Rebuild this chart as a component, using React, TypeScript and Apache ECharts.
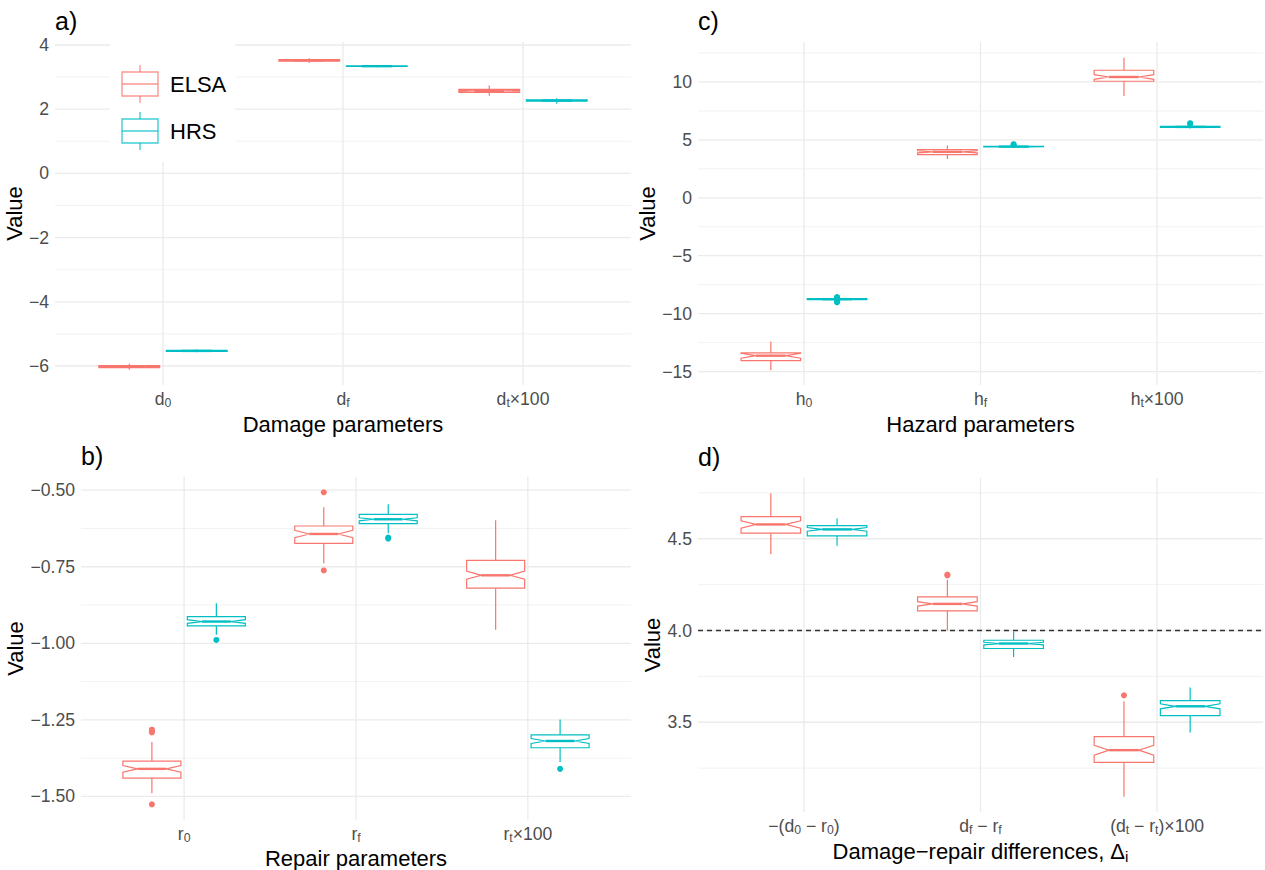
import React, { useEffect, useRef } from 'react';
import * as echarts from 'echarts';

const FONT = '"Liberation Sans", Arial, Helvetica, sans-serif';
const TICK_COLOR = '#4D4D4D';
const GRID_COLOR = '#EBEBEB';
const ELSA_COLOR = '#F8766D';
const HRS_COLOR = '#00BFC4';

// Box statistics for each category:
// [lower whisker, Q1, notch low, median, notch high, Q3, upper whisker]
const damageELSA = [
  [-6.12, -6.05, -6.029, -6.02, -6.011, -5.99, -5.93],
  [3.44, 3.495, 3.513, 3.52, 3.527, 3.545, 3.59],
  [2.42, 2.52, 2.555, 2.57, 2.585, 2.62, 2.74],
];
const damageHRS = [
  [-5.57, -5.545, -5.535, -5.53, -5.525, -5.515, -5.49],
  [3.31, 3.33, 3.337, 3.34, 3.343, 3.35, 3.37],
  [2.17, 2.25, 2.264, 2.27, 2.276, 2.29, 2.34],
];
const damageELSAOutliers: number[][] = [[], [], []];
const damageHRSOutliers: number[][] = [[], [], []];

const repairELSA = [
  [-1.49, -1.44, -1.421, -1.41, -1.399, -1.385, -1.322],
  [-0.739, -0.674, -0.655, -0.643, -0.631, -0.617, -0.556],
  [-0.956, -0.82, -0.791, -0.778, -0.764, -0.729, -0.598],
];
const repairHRS = [
  [-0.972, -0.943, -0.935, -0.929, -0.923, -0.913, -0.869],
  [-0.641, -0.609, -0.6, -0.595, -0.59, -0.579, -0.546],
  [-1.388, -1.341, -1.327, -1.319, -1.311, -1.299, -1.249],
];
const repairELSAOutliers = [[-1.282, -1.287, -1.291, -1.526], [-0.507, -0.762], []];
const repairHRSOutliers = [[-0.989], [-0.655, -0.658], [-1.41]];

const hazardELSA = [
  [-14.89, -14.05, -13.85, -13.63, -13.42, -13.39, -12.41],
  [3.34, 3.73, 3.88, 3.97, 4.06, 4.16, 4.51],
  [8.79, 10.06, 10.23, 10.43, 10.63, 11.01, 12.1],
];
const hazardHRS = [
  [-8.86, -8.79, -8.765, -8.75, -8.735, -8.71, -8.64],
  [4.33, 4.39, 4.41, 4.42, 4.43, 4.45, 4.52],
  [5.98, 6.08, 6.11, 6.12, 6.13, 6.16, 6.27],
];
const hazardELSAOutliers: number[][] = [[], [], []];
const hazardHRSOutliers = [[-8.57, -8.62, -8.92, -8.97, -9.02], [4.58, 4.63], [6.37, 6.44]];

const diffELSA = [
  [4.415, 4.531, 4.558, 4.578, 4.598, 4.62, 4.748],
  [4.0, 4.107, 4.133, 4.145, 4.157, 4.183, 4.276],
  [3.094, 3.281, 3.321, 3.348, 3.375, 3.422, 3.614],
];
const diffHRS = [
  [4.462, 4.516, 4.541, 4.551, 4.561, 4.572, 4.61],
  [3.855, 3.902, 3.922, 3.929, 3.936, 3.947, 3.995],
  [3.444, 3.536, 3.573, 3.587, 3.601, 3.618, 3.689],
];
const diffELSAOutliers = [[], [4.3, 4.305], [3.647]];
const diffHRSOutliers: number[][] = [[], [], []];
const diffReference = 4.0;

// Category labels (rich text: m = main, s = subscript)
const damageLabels = ['{m|d}{s|0}', '{m|d}{s|f}', '{m|d}{s|t}{m|×100}'];
const repairLabels = ['{m|r}{s|0}', '{m|r}{s|f}', '{m|r}{s|t}{m|×100}'];
const hazardLabels = ['{m|h}{s|0}', '{m|h}{s|f}', '{m|h}{s|t}{m|×100}'];
const diffLabels = [
  '{m|−(d}{s|0}{m| − r}{s|0}{m|)}',
  '{m|d}{s|f}{m| − r}{s|f}',
  '{m|(d}{s|t}{m| − r}{s|t}{m|)×100}',
];

// Y-axis ticks (major) and minor grid values
const damageTicks = [-6, -4, -2, 0, 2, 4];
const damageMinor = [-5, -3, -1, 1, 3];
const repairTicks = [-1.5, -1.25, -1.0, -0.75, -0.5];
const repairMinor = [-1.375, -1.125, -0.875, -0.625];
const hazardTicks = [-15, -10, -5, 0, 5, 10];
const hazardMinor = [-12.5, -7.5, -2.5, 2.5, 7.5, 12.5];
const diffTicks = [3.5, 4.0, 4.5];
const diffMinor = [3.25, 3.75, 4.25, 4.75];

const categoryIndex = [1, 2, 3];

// Dodged box geometry (in category units)
const DODGE = 0.1875;
const BOX_HALF = 0.16875;
const NOTCH_INDENT = 0.25;

type Panel = {
  tag: string;
  rect: { left: number; top: number; width: number; height: number };
  yMin: number;
  yMax: number;
  ticks: number[];
  minor: number[];
  decimals: number;
  labels: string[];
  title: string;
  titleRich?: any;
  titleGap: number;
  valueGap: number;
  elsa: number[][];
  hrs: number[][];
  elsaOut: number[][];
  hrsOut: number[][];
  refLine?: number;
};

const panels: Panel[] = [
  {
    tag: 'a)',
    rect: { left: 55, top: 42, width: 576, height: 343 },
    yMin: -6.592, yMax: 4.093,
    ticks: damageTicks, minor: damageMinor, decimals: 0,
    labels: damageLabels, title: 'Damage parameters', titleGap: 28, valueGap: 20,
    elsa: damageELSA, hrs: damageHRS, elsaOut: damageELSAOutliers, hrsOut: damageHRSOutliers,
  },
  {
    tag: 'b)',
    rect: { left: 81, top: 477, width: 550, height: 343 },
    yMin: -1.577, yMax: -0.457,
    ticks: repairTicks, minor: repairMinor, decimals: 2,
    labels: repairLabels, title: 'Repair parameters', titleGap: 27, valueGap: 46,
    elsa: repairELSA, hrs: repairHRS, elsaOut: repairELSAOutliers, hrsOut: repairHRSOutliers,
  },
  {
    tag: 'c)',
    rect: { left: 698, top: 42, width: 565, height: 343 },
    yMin: -16.16, yMax: 13.45,
    ticks: hazardTicks, minor: hazardMinor, decimals: 0,
    labels: hazardLabels, title: 'Hazard parameters', titleGap: 28, valueGap: 31,
    elsa: hazardELSA, hrs: hazardHRS, elsaOut: hazardELSAOutliers, hrsOut: hazardHRSOutliers,
  },
  {
    tag: 'd)',
    rect: { left: 698, top: 478, width: 565, height: 334 },
    yMin: 3.011, yMax: 4.831,
    ticks: diffTicks, minor: diffMinor, decimals: 1,
    labels: diffLabels,
    title: '{t|Damage−repair differences, Δ}{s|i}',
    titleRich: {
      t: { fontSize: 22, color: '#000', fontFamily: FONT },
      s: { fontSize: 15.4, color: '#000', fontFamily: FONT, padding: [10, 0, 0, 0] },
    },
    titleGap: 27, valueGap: 31,
    elsa: diffELSA, hrs: diffHRS, elsaOut: diffELSAOutliers, hrsOut: diffHRSOutliers,
    refLine: diffReference,
  },
];

function formatTick(v: number, decimals: number): string {
  const s = Math.abs(v).toFixed(decimals);
  return v < 0 ? '−' + s : s;
}

function boxRenderer(offset: number, color: string) {
  return (params: any, api: any) => {
    const cx = api.value(0) + offset;
    const wl = api.value(1);
    const q1 = api.value(2);
    const nl = api.value(3);
    const med = api.value(4);
    const nh = api.value(5);
    const q3 = api.value(6);
    const wh = api.value(7);
    const y = (v: number) => api.coord([cx, v])[1];
    const left = api.coord([cx - BOX_HALF, med])[0];
    const right = api.coord([cx + BOX_HALF, med])[0];
    const mid = api.coord([cx, med])[0];
    const ind = (right - left) * NOTCH_INDENT;
    const points = [
      [left, y(q3)], [left, y(nh)], [left + ind, y(med)], [left, y(nl)], [left, y(q1)],
      [right, y(q1)], [right, y(nl)], [right - ind, y(med)], [right, y(nh)], [right, y(q3)],
    ];
    const lineStyle = { stroke: color, lineWidth: 1.2 };
    return {
      type: 'group',
      children: [
        { type: 'line', shape: { x1: mid, y1: y(q3), x2: mid, y2: y(wh) }, style: lineStyle },
        { type: 'line', shape: { x1: mid, y1: y(q1), x2: mid, y2: y(wl) }, style: lineStyle },
        { type: 'polygon', shape: { points }, style: { fill: '#fff', stroke: color, lineWidth: 1.2 } },
        {
          type: 'line',
          shape: { x1: left + ind, y1: y(med), x2: right - ind, y2: y(med) },
          style: { stroke: color, lineWidth: 2.4 },
        },
      ],
    };
  };
}

// kind: 0 = major horizontal, 1 = minor horizontal, 2 = vertical at category
function gridRenderer(params: any, api: any) {
  const v = api.value(0);
  const kind = api.value(1);
  const cs = params.coordSys;
  if (kind === 2) {
    const x = api.coord([v, 0])[0];
    return {
      type: 'line',
      shape: { x1: x, y1: cs.y, x2: x, y2: cs.y + cs.height },
      style: { stroke: GRID_COLOR, lineWidth: 1.3 },
    };
  }
  const yy = api.coord([1, v])[1];
  return {
    type: 'line',
    shape: { x1: cs.x, y1: yy, x2: cs.x + cs.width, y2: yy },
    style: { stroke: kind === 0 ? GRID_COLOR : '#EFEFEF', lineWidth: kind === 0 ? 1.3 : 0.8 },
  };
}

function refLineRenderer(params: any, api: any) {
  const cs = params.coordSys;
  const yy = api.coord([1, api.value(0)])[1];
  return {
    type: 'line',
    shape: { x1: cs.x, y1: yy, x2: cs.x + cs.width, y2: yy },
    style: { stroke: '#333333', lineWidth: 1.3, lineDash: [5, 4] },
  };
}

function outlierPoints(out: number[][], offset: number) {
  const pts: number[][] = [];
  out.forEach((vals, c) => vals.forEach((v) => pts.push([categoryIndex[c] + offset, v])));
  return pts;
}

function buildOption() {
  const grid: any[] = [];
  const xAxis: any[] = [];
  const yAxis: any[] = [];
  const series: any[] = [];
  const tickRich = {
    m: { fontSize: 17.6, color: TICK_COLOR, fontFamily: FONT },
    s: { fontSize: 12.3, color: TICK_COLOR, fontFamily: FONT, padding: [8, 0, 0, 0] },
  };

  panels.forEach((p, i) => {
    grid.push({ ...p.rect, containLabel: false });
    xAxis.push({
      type: 'value',
      gridIndex: i,
      min: 0.4,
      max: 3.6,
      axisLine: { show: false },
      axisTick: { show: false },
      splitLine: { show: false },
      axisLabel: {
        customValues: categoryIndex,
        formatter: (v: number) => p.labels[Math.round(v) - 1] ?? '',
        margin: 4,
        fontSize: 17.6,
        color: TICK_COLOR,
        fontFamily: FONT,
        rich: tickRich,
      },
      name: p.title,
      nameLocation: 'middle',
      nameGap: p.titleGap,
      nameTextStyle: {
        fontSize: 22,
        color: '#000',
        fontFamily: FONT,
        ...(p.titleRich ? { rich: p.titleRich } : {}),
      },
    });
    yAxis.push({
      type: 'value',
      gridIndex: i,
      min: p.yMin,
      max: p.yMax,
      axisLine: { show: false },
      axisTick: { show: false },
      splitLine: { show: false },
      axisLabel: {
        customValues: p.ticks,
        formatter: (v: number) => formatTick(v, p.decimals),
        margin: 6,
        fontSize: 17.6,
        color: TICK_COLOR,
        fontFamily: FONT,
      },
      name: 'Value',
      nameLocation: 'middle',
      nameRotate: 90,
      nameGap: p.valueGap,
      nameTextStyle: { fontSize: 22, color: '#000', fontFamily: FONT },
    });

    const gridData = [
      ...p.ticks.map((v) => [v, 0]),
      ...p.minor.map((v) => [v, 1]),
      ...categoryIndex.map((v) => [v, 2]),
    ];
    series.push({
      type: 'custom',
      xAxisIndex: i,
      yAxisIndex: i,
      silent: true,
      z: 0,
      renderItem: gridRenderer,
      data: gridData,
    });

    const groups = [
      { name: 'ELSA', stats: p.elsa, out: p.elsaOut, color: ELSA_COLOR, offset: -DODGE },
      { name: 'HRS', stats: p.hrs, out: p.hrsOut, color: HRS_COLOR, offset: DODGE },
    ];
    groups.forEach((g) => {
      series.push({
        type: 'custom',
        name: g.name,
        xAxisIndex: i,
        yAxisIndex: i,
        silent: true,
        z: 2,
        dimensions: ['cat', 'wl', 'q1', 'nl', 'med', 'nh', 'q3', 'wh'],
        encode: { x: 'cat', y: ['wl', 'q1', 'nl', 'med', 'nh', 'q3', 'wh'] },
        renderItem: boxRenderer(g.offset, g.color),
        data: g.stats.map((s, c) => [categoryIndex[c], ...s]),
      });
      series.push({
        type: 'scatter',
        name: g.name,
        xAxisIndex: i,
        yAxisIndex: i,
        silent: true,
        z: 3,
        symbol: 'circle',
        symbolSize: 6,
        itemStyle: { color: g.color, opacity: 1 },
        data: outlierPoints(g.out, g.offset),
      });
    });

    if (p.refLine !== undefined) {
      series.push({
        type: 'custom',
        xAxisIndex: i,
        yAxisIndex: i,
        silent: true,
        z: 4,
        renderItem: refLineRenderer,
        data: [[p.refLine]],
      });
    }
  });

  // Panel tags
  const tagGraphics = panels.map((p) => ({
    type: 'text',
    x: p.rect.left,
    y: p.rect.top - 21,
    z: 100,
    style: {
      text: p.tag,
      fontSize: 25,
      fontFamily: FONT,
      fill: '#000',
      verticalAlign: 'middle',
      textVerticalAlign: 'middle',
    },
  }));

  // Legend drawn inside panel a
  const legendKey = (top: number, color: string, label: string) => [
    {
      type: 'line', z: 101,
      shape: { x1: 140, y1: top - 7, x2: 140, y2: top },
      style: { stroke: color, lineWidth: 1.4, opacity: 0.75 },
    },
    {
      type: 'line', z: 101,
      shape: { x1: 140, y1: top + 24, x2: 140, y2: top + 31 },
      style: { stroke: color, lineWidth: 1.4, opacity: 0.75 },
    },
    {
      type: 'rect', z: 101,
      shape: { x: 122, y: top, width: 36, height: 24 },
      style: { fill: '#fff', stroke: color, lineWidth: 1.4, opacity: 0.75 },
    },
    {
      type: 'line', z: 101,
      shape: { x1: 122, y1: top + 12, x2: 158, y2: top + 12 },
      style: { stroke: color, lineWidth: 1.4, opacity: 0.75 },
    },
    {
      type: 'text', z: 101, x: 170, y: top + 12,
      style: {
        text: label, fontSize: 22, fontFamily: FONT, fill: '#000',
        verticalAlign: 'middle', textVerticalAlign: 'middle',
      },
    },
  ];

  const graphic = [
    ...tagGraphics,
    {
      type: 'rect', z: 100,
      shape: { x: 110, y: 42, width: 125, height: 120 },
      style: { fill: '#fff' },
    },
    ...legendKey(72, ELSA_COLOR, 'ELSA'),
    ...legendKey(119, HRS_COLOR, 'HRS'),
  ];

  return {
    animation: false,
    backgroundColor: '#fff',
    textStyle: { fontFamily: FONT },
    grid,
    xAxis,
    yAxis,
    series,
    graphic,
  };
}

export default function App() {
  const ref = useRef<HTMLDivElement>(null);
  useEffect(() => {
    if (!ref.current) return;
    const chart = echarts.init(ref.current, null, { renderer: 'svg' });
    chart.setOption(buildOption() as any);
    return () => chart.dispose();
  }, []);
  return (
    <div
      ref={ref}
      style={{ position: 'absolute', left: 0, top: 0, width: 1265, height: 870, background: '#fff' }}
    />
  );
}
